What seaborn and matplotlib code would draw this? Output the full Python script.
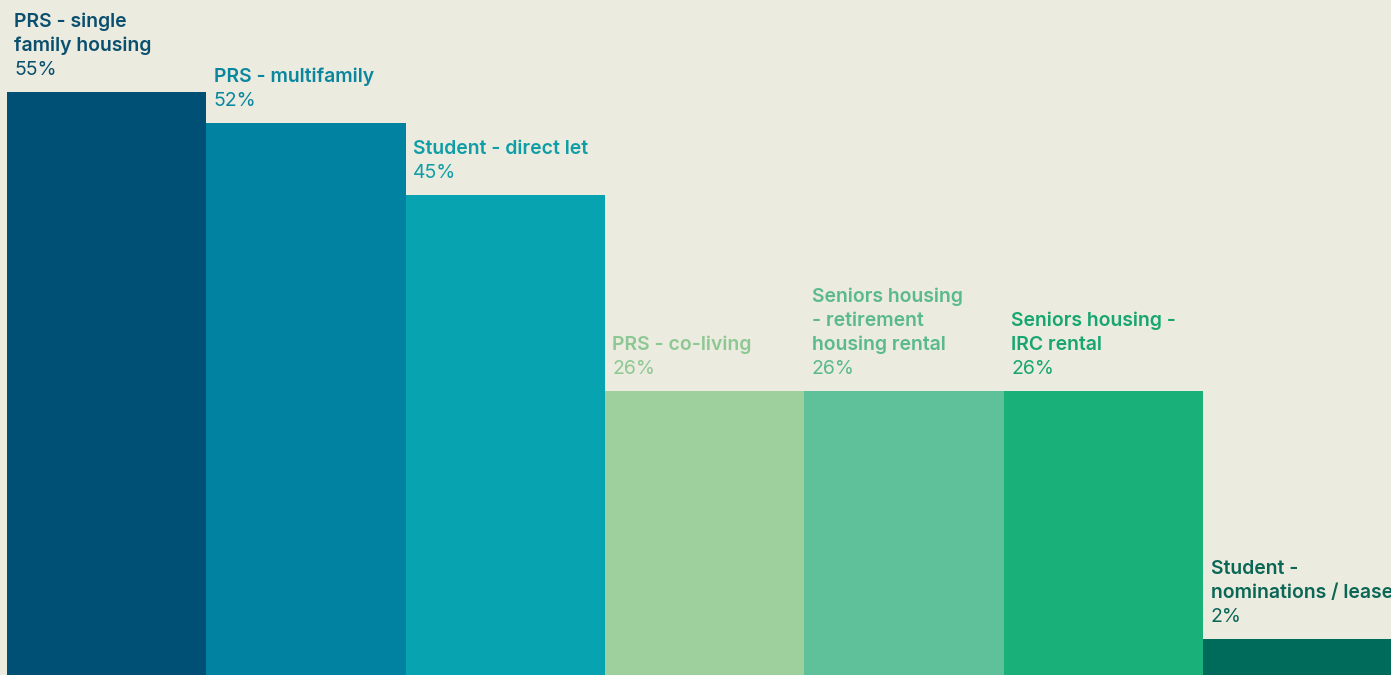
import matplotlib
matplotlib.use("Agg")
import matplotlib.pyplot as plt
import seaborn as sns
import pandas as pd

# Share of respondents by residential sector
categories = [
    "PRS - single\nfamily housing",
    "PRS - multifamily",
    "Student - direct let",
    "PRS - co-living",
    "Seniors housing\n- retirement\nhousing rental",
    "Seniors housing -\nIRC rental",
    "Student -\nnominations / lease",
]
values = [55, 52, 45, 26, 26, 26, 2]
pct_labels = ["55%", "52%", "45%", "26%", "26%", "26%", "2%"]
bar_colors = ["#005075", "#0082A0", "#08A3B0", "#9DD09D", "#5FC199", "#19B07A", "#006B5A"]
text_colors = ["#0A4F6E", "#0A869E", "#0F9EA6", "#8DC893", "#5AB98E", "#17A670", "#0A6655"]

BG = "#EBEBDF"
STUB = 1.45  # bars rise from slightly below the zero line

sns.set_theme(style="white")
plt.rcParams["font.family"] = ["Inter", "DejaVu Sans"]

df = pd.DataFrame({"sector": categories, "share": values})

fig = plt.figure(figsize=(13.91, 6.75), dpi=100, facecolor=BG)
ax = fig.add_axes([0, 0, 1, 1])
ax.set_facecolor(BG)

sns.barplot(data=df, x="sector", y="share", hue="sector", palette=bar_colors,
            width=1.0, legend=False, ax=ax, saturation=1, linewidth=0)

for p in ax.patches:
    p.set_y(-STUB)
    p.set_height(p.get_height() + STUB)

ax.set_xlim(-0.535, 6.443)
ax.set_ylim(-STUB, 63.9)
ax.axis("off")

px = 0.72  # points per pixel at 100 dpi
fs = 19.4 * px
for i, (cat, val, pct, col) in enumerate(zip(categories, values, pct_labels, text_colors)):
    x0 = i - 0.5
    ax.annotate(pct, xy=(x0, val), xytext=(7.5 * px, 17 * px), textcoords="offset points",
                ha="left", va="baseline", fontsize=fs, color=col, fontweight="normal",
                annotation_clip=False)
    lines = cat.split("\n")
    for k, line in enumerate(reversed(lines)):
        ax.annotate(line, xy=(x0, val), xytext=(7.5 * px, (17 + 24 * (k + 1)) * px),
                    textcoords="offset points", ha="left", va="baseline",
                    fontsize=fs, color=col, fontweight="semibold",
                    annotation_clip=False)

fig.savefig("out.png", dpi=100, facecolor=BG)
